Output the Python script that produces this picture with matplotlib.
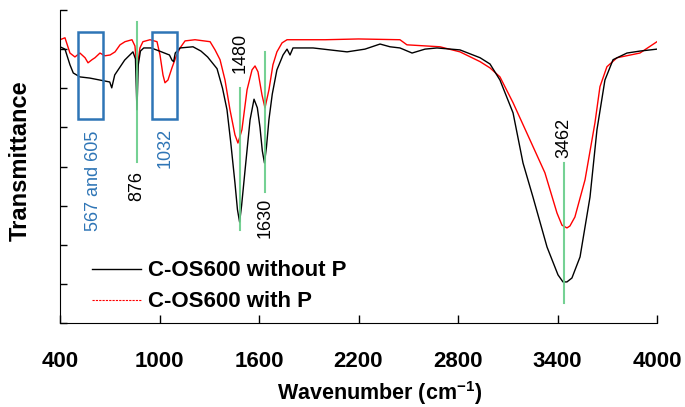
"""FTIR spectra of C-OS600 with and without P."""
import matplotlib
matplotlib.use('Agg')
import matplotlib.pyplot as plt
import matplotlib.patches as mpatches
from matplotlib.lines import Line2D

plt.rcParams['font.family'] = ['Liberation Sans', 'DejaVu Sans']
plt.rcParams['mathtext.fontset'] = 'custom'
plt.rcParams['mathtext.bf'] = 'Liberation Sans:bold'
plt.rcParams['mathtext.rm'] = 'Liberation Sans:bold'

# ── Data ─────────────────────────────────────────────────────────────────────
wn_black = [400, 430, 460, 480, 520, 580, 640, 700, 712, 730, 790, 840, 855,
            864, 872, 885, 905, 950, 1000, 1030, 1060, 1075, 1085, 1095, 1124,
            1202, 1250, 1290, 1347, 1380, 1407, 1430, 1455, 1470, 1483, 1495,
            1516, 1546, 1570, 1590, 1606, 1620, 1633, 1645, 1660, 1680, 1708,
            1745, 1769, 1787, 1805, 1847, 1926, 2028, 2131, 2239, 2330, 2390,
            2450, 2523, 2601, 2673, 2812, 2933, 2993, 3053, 3132, 3192, 3252,
            3337, 3403, 3433, 3457, 3487, 3536, 3596, 3638, 3686, 3735, 3819,
            3897, 4000]
t_black = [7.06, 7.0, 6.6, 6.39, 6.29, 6.26, 6.21, 6.16, 6.01, 6.34, 6.72,
           6.93, 6.75, 5.45, 6.6, 6.95, 7.03, 7.03, 6.95, 6.9, 6.85, 6.72, 6.68,
           6.9, 7.03, 7.06, 6.95, 6.8, 6.5, 6.0, 5.45, 4.6, 3.58, 2.9, 2.58,
           3.0, 3.91, 5.19, 5.72, 5.5, 5.0, 4.4, 4.09, 4.5, 5.2, 5.85, 6.47,
           6.85, 7.0, 6.85, 7.03, 7.03, 7.03, 6.98, 6.93, 7.0, 7.13, 7.06, 7.03,
           6.9, 7.0, 7.03, 6.98, 6.78, 6.62, 6.21, 5.37, 4.09, 3.22, 1.94, 1.23,
           1.05, 1.05, 1.15, 1.69, 3.22, 4.94, 6.21, 6.73, 6.9, 6.95, 7.0]

wn_red = [400, 430, 460, 490, 520, 551, 569, 593, 611, 641, 671, 702, 732,
          762, 792, 834, 852, 864, 882, 900, 943, 985, 1003, 1021, 1033, 1051,
          1075, 1099, 1124, 1154, 1214, 1305, 1335, 1365, 1395, 1425, 1455,
          1473, 1497, 1528, 1558, 1576, 1594, 1618, 1636, 1660, 1684, 1708,
          1739, 1769, 1800, 2000, 2200, 2450, 2492, 2691, 2812, 2933, 2993,
          3053, 3132, 3234, 3324, 3397, 3427, 3457, 3475, 3505, 3566, 3626,
          3656, 3698, 3759, 3897, 4000]
t_red = [7.24, 7.29, 6.9, 6.8, 6.9, 6.78, 6.65, 6.73, 6.78, 6.9, 6.83, 6.85,
         6.93, 7.11, 7.19, 7.24, 7.08, 6.47, 7.03, 7.19, 7.24, 7.19, 6.85, 6.34,
         6.14, 6.21, 6.52, 6.8, 7.03, 7.21, 7.24, 7.19, 6.98, 6.73, 6.21, 5.45,
         4.81, 4.6, 4.94, 5.96, 6.47, 6.57, 6.42, 5.83, 5.5, 5.96, 6.6, 6.93,
         7.16, 7.24, 7.24, 7.24, 7.26, 7.24, 7.11, 7.06, 6.93, 6.68, 6.52, 6.29,
         5.63, 4.68, 3.84, 2.81, 2.5, 2.43, 2.48, 2.71, 3.66, 5.12, 6.04, 6.55,
         6.78, 6.9, 7.19]

series_labels = ['C-OS600 without P', 'C-OS600 with P']

# peak markers: position, line bottom/top, label, label position
peak_pos = [864, 1485, 1636, 3440]
peak_lo = [4.12, 2.38, 3.35, 0.51]
peak_hi = [7.70, 6.00, 6.93, 4.09]
peak_text = ['876', '1480', '1630', '3462']
peak_text_y = [3.5, 6.9, 2.68, 4.73]

# highlighted regions (blue boxes)
box_x0 = [509, 955]
box_x1 = [659, 1106]
box_y0 = 5.22
box_y1 = 7.44
box_text = ['567 and 605', '1032']
box_text_x = [599, 1033]
box_text_y = [3.63, 4.48]

x_ticks = [400, 1000, 1600, 2200, 2800, 3400, 4000]

# ── Figure ───────────────────────────────────────────────────────────────────
fig = plt.figure(figsize=(6.85, 4.07), dpi=100)
ax = fig.add_axes([60/685, 1 - 323/407, 597/685, 313/407])

GREEN = '#66cc88'
BLUE = '#2e75b6'

ax.plot(wn_black, t_black, color='black', lw=1.0, zorder=3)
ax.plot(wn_red, t_red, color='#ff0000', lw=1.0, zorder=2)

for x, lo, hi in zip(peak_pos, peak_lo, peak_hi):
    ax.plot([x, x], [lo, hi], color=GREEN, lw=1.5, zorder=4, alpha=0.9)
for x, y, s in zip(peak_pos, peak_text_y, peak_text):
    ax.text(x, y, s, rotation=90, ha='center', va='center',
            fontsize=13, color='black')

for x0, x1 in zip(box_x0, box_x1):
    ax.add_patch(mpatches.Rectangle((x0, box_y0), x1 - x0, box_y1 - box_y0,
                 fill=False, edgecolor=BLUE, lw=1.8, zorder=5))
for x, y, s in zip(box_text_x, box_text_y, box_text):
    ax.text(x, y, s, rotation=90, ha='center', va='center',
            fontsize=13, color=BLUE)

ax.set_xlim(400, 4000)
ax.set_ylim(0, 8)
ax.set_xticks(x_ticks)
ax.set_xticklabels([str(v) for v in x_ticks])
ax.set_yticks(range(0, 9))
ax.set_yticklabels([])
ax.tick_params(axis='x', direction='in', length=6, width=1, pad=20,
               labelsize=16)
ax.tick_params(axis='y', direction='in', length=5, width=1)
for lbl in ax.get_xticklabels():
    lbl.set_fontweight('bold')
ax.spines['top'].set_visible(False)
ax.spines['right'].set_visible(False)

ax.set_xlabel(r'Wavenumber (cm$^{-1}$)', fontsize=15.5, fontweight='bold')
ax.xaxis.set_label_coords(0.536, -0.178)
ax.set_ylabel('Transmittance', fontsize=17, fontweight='bold')
ax.yaxis.set_label_coords(-0.047, 0.52)

handles = [Line2D([], [], color='black', lw=1.0),
           Line2D([], [], color='#ff0000', lw=0.8, linestyle=(0, (2, 1)))]
leg = ax.legend(handles, series_labels, loc='center left',
                bbox_to_anchor=(0.0536, 0.117), frameon=False,
                borderaxespad=0, borderpad=0, handlelength=2.2,
                handletextpad=0.3, labelspacing=0.45,
                prop={'size': 16, 'weight': 'bold'})

plt.savefig('out.png', dpi=100)
